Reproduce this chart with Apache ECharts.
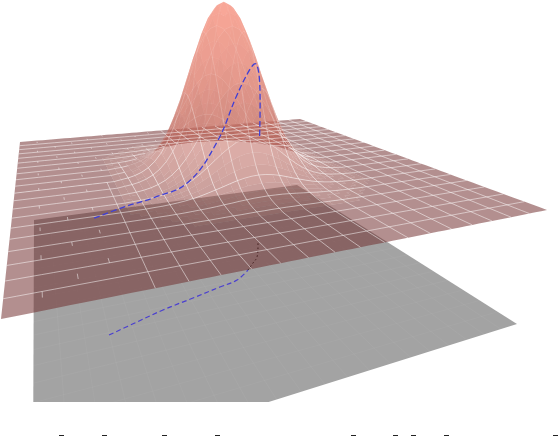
<!DOCTYPE html>
<html><head><meta charset="utf-8">
<style>html,body{margin:0;padding:0;background:#fff}#c{width:558px;height:436px;filter:blur(.35px)}</style>
<script src="https://cdn.jsdelivr.net/npm/echarts@6/dist/echarts.min.js"></script>
</head><body><div id="c"></div>
<script>
// ---- values ----
// surface height (percent of peak) in one quadrant around the peak; rows step along v, columns along u, 1/60 of the plane per step
const peakQuadrant = [
[100,98.1,92.6,84.1,73.5,61.8,50.0,39.0,29.2,21.1,14.6,9.8,6.3,3.9,2.3,1.3,.7],
[98.5,96.6,91.2,82.8,72.4,60.9,49.3,38.4,28.8,20.8,14.4,9.7,6.2,3.8,2.3,1.3,.7],
[94.0,92.2,87.0,79.1,69.1,58.1,47.0,36.7,27.4,19.8,13.7,9.2,5.9,3.7,2.2,1.2,.7],
[87.1,85.4,80.7,73.3,64.0,53.8,43.6,34.0,25.4,18.4,12.7,8.5,5.5,3.4,2.0,1.1,.6],
[78.2,76.7,72.4,65.8,57.5,48.3,39.1,30.5,22.8,16.5,11.4,7.7,4.9,3.0,1.8,1.0,.5],
[68.1,66.8,63.1,57.3,50.1,42.1,34.1,26.6,19.9,14.4,9.9,6.7,4.3,2.7,1.6,.9,.5],
[57.5,56.4,53.2,48.4,42.3,35.5,28.8,22.4,16.8,12.1,8.4,5.6,3.6,2.2,1.3,.7,.4],
[47.0,46.1,43.5,39.5,34.5,29.0,23.5,18.3,13.7,9.9,6.9,4.6,3.0,1.8,1.1,.6,.3],
[37.3,36.6,34.5,31.4,27.4,23.1,18.7,14.5,10.9,7.9,5.4,3.7,2.3,1.5,.9,.5,.3],
[28.8,28.3,26.7,24.2,21.2,17.8,14.4,11.2,8.4,6.1,4.2,2.8,1.8,1.1,.7,.4,.2],
[21.5,21.1,19.9,18.1,15.8,13.3,10.8,8.4,6.3,4.5,3.1,2.1,1.4,.8,.5,.3,.2],
[15.5,15.2,14.4,13.0,11.4,9.6,7.8,6.0,4.5,3.3,2.3,1.5,1.0,.6,.4,.2,.1],
[10.9,10.7,10.1,9.2,8.0,6.7,5.5,4.3,3.2,2.3,1.6,1.1,.7,.4,.3,.1,.1],
[7.4,7.3,6.9,6.2,5.4,4.6,3.7,2.9,2.2,1.6,1.1,.7,.5,.3,.2,.1,.1],
[4.9,4.8,4.5,4.1,3.6,3.0,2.5,1.9,1.4,1.0,.7,.5,.3,.2,.1,.1,0],
[3.1,3.0,2.9,2.6,2.3,1.9,1.6,1.2,.9,.7,.5,.3,.2,.1,.1,0,0],
[1.9,1.9,1.8,1.6,1.4,1.2,1.0,.7,.6,.4,.3,.2,.1,.1,0,0,0],
[1.2,1.2,1.1,1.0,.9,.7,.6,.5,.4,.3,.2,.1,.1,0,0,0,0],
[.7,.7,.6,.6,.5,.4,.4,.3,.2,.1,.1,.1,0,0,0,0,0]
];
// slice curve: plane coordinates and height
const curveU = [.1477,.2124,.2777,.3578,.4362,.4893,.5368,.5653,.5905,.6195,.6336];
const curveV = [.2915,.3159,.3399,.3623,.3853,.4010,.4384,.4690,.4971,.5535,.5840];
const curveZ = [0,1.5,2,6,26,50,63,66,55,37,13];
const floorVisibleCount = 7;          // curve points visible below the plane's front edge
const bottomDashX = [59,102,162,215,351,393,411,444,553]; // clipped caption marks
const floorCorners = [[33,476],[517,324],[297,185],[34,220]]; // front-left, front-right, back-right, back-left

// ---- view ----
const N = 60, STEP = 3;
const cam = {a:861.3,b:48.17,c:1,d:12.04,e:30.1,f:319,g:.5764,h:1.4585,
             vx:241,vy:1373,floor:.17,peak:.2455};
function project(u,v,zPct){
  const t = -cam.peak*zPct/100;
  const w = cam.g*u+cam.h*v+1+t;
  return [(cam.a*u+cam.b*v+cam.c+t*cam.vx)/w,(cam.d*u+cam.e*v+cam.f+t*cam.vy)/w];
}
function projectCurveOnFloor(u,v){
  const l = cam.floor, w = cam.g*u+cam.h*v+1+l;
  return [(cam.a*u+cam.b*v+cam.c+l*cam.vx)/w,(cam.d*u+cam.e*v+cam.f+l*cam.vy)/w];
}
function quadMap(q){
  const [p0,p1,p2,p3]=q;
  const sx=p0[0]-p1[0]+p2[0]-p3[0], sy=p0[1]-p1[1]+p2[1]-p3[1];
  const dx1=p1[0]-p2[0], dx2=p3[0]-p2[0], dy1=p1[1]-p2[1], dy2=p3[1]-p2[1];
  const den=dx1*dy2-dx2*dy1;
  const g=(sx*dy2-dx2*sy)/den, h=(dx1*sy-sx*dy1)/den;
  const a=p1[0]-p0[0]+g*p1[0], b=p3[0]-p0[0]+h*p3[0], d=p1[1]-p0[1]+g*p1[1], e=p3[1]-p0[1]+h*p3[1];
  return (u,v)=>{const w=g*u+h*v+1;return [(a*u+b*v+p0[0])/w,(d*u+e*v+p0[1])/w];};
}
const floorMap = quadMap(floorCorners);
function height(i,j){
  const r = Math.abs(i-N/2), c = Math.abs(j-N/2);
  return (r<peakQuadrant.length && c<peakQuadrant[0].length) ? peakQuadrant[r][c] : 0;
}
const stopLow=[112,44,44], stopHigh=[246,142,122], ALPHA=.53;
function band(z){ return z<.05 ? 0 : 1+Math.round(Math.pow(z/100,.42)*24); }
function bandColor(b){
  const k = b/25;
  const c = stopLow.map((s,n)=>Math.round(s+(stopHigh[n]-s)*k));
  return 'rgba('+c.join(',')+','+ALPHA+')';
}
function brokenPiece(i,j){
  // cross lines flicker in and out on the far left of the plane
  const u=j/N, v=i/N;
  if(u>=.45) return false;
  if(u>=.2 && v<.5) return false;
  if(height(i,j)>.5) return false;
  return (i*2+j)%7>0;
}
function surfaceChildren(api){
  const pts=[];
  for(let i=0;i<=N;i++){pts.push([]);for(let j=0;j<=N;j++){
    pts[i].push(api.coord(project(j/N,i/N,height(i,j))));}}
  const layers=[{},{},{}];
  const fmt=p=>p[0].toFixed(2)+' '+p[1].toFixed(2);
  for(let i=0;i<N;i++)for(let j=0;j<N;j++){
    const q=[pts[i][j],pts[i][j+1],pts[i+1][j+1],pts[i+1][j]];
    let s=0;for(let k=0;k<4;k++){const a=q[k],b=q[(k+1)%4];s+=a[0]*b[1]-b[0]*a[1];}
    const zm=(height(i,j)+height(i,j+1)+height(i+1,j+1)+height(i+1,j))/4;
    const b=band(zm);
    const layer = s>0 ? 1 : (i>=N/2 ? 0 : 2);
    (layers[layer][b]=layers[layer][b]||[]).push('M'+fmt(q[0])+'L'+fmt(q[1])+'L'+fmt(q[2])+'L'+fmt(q[3])+'Z');
  }
  const ch=[];
  layers.forEach(l=>Object.keys(l).map(Number).sort((a,b)=>a-b).forEach(b=>{
    ch.push({type:'path',shape:{pathData:l[b].join('')},style:{fill:bandColor(b),stroke:null}});
  }));
  const alphas=[.5,.42,.3,.2,.13,.07];
  const seg={};
  const add=(z,p,q,rear,alongU)=>{
    let lv=Math.min(5,Math.floor(z/(alongU?9:14)));
    if(rear && z>1.5) lv=5;
    (seg[lv]=seg[lv]||[]).push('M'+fmt(p)+'L'+fmt(q));
  };
  for(let i=STEP;i<N;i+=STEP)for(let j=0;j<N;j++){
    add((height(i,j)+height(i,j+1))/2,pts[i][j],pts[i][j+1],i>N/2,true);
  }
  for(let j=STEP;j<N;j+=STEP)for(let i=0;i<N;i++){
    if(brokenPiece(i,j)) continue;
    add((height(i,j)+height(i+1,j))/2,pts[i][j],pts[i+1][j],i>=N/2,false);
  }
  Object.keys(seg).forEach(k=>{
    ch.push({type:'path',shape:{pathData:seg[k].join('')},
      style:{fill:null,stroke:'rgba(255,255,255,'+alphas[k]+')',lineWidth:1}});
  });
  return ch;
}
function floorChildren(api){
  const c=floorCorners.map(p=>api.coord(p));
  const ch=[{type:'polygon',shape:{points:c},style:{fill:'#a3a3a3'}}];
  let d='';
  for(let k=STEP;k<N;k+=STEP){
    const a=api.coord(floorMap(k/N,0)),b=api.coord(floorMap(k/N,1));
    const e=api.coord(floorMap(0,k/N)),f=api.coord(floorMap(1,k/N));
    d+='M'+a.join(' ')+'L'+b.join(' ')+'M'+e.join(' ')+'L'+f.join(' ');
  }
  ch.push({type:'path',shape:{pathData:d},style:{fill:null,stroke:'rgba(255,255,255,.04)',lineWidth:1}});
  return ch;
}
const floorCurve = curveU.map((u,k)=>projectCurveOnFloor(u,curveV[k]));
const surfCurve  = curveU.map((u,k)=>project(u,curveV[k],curveZ[k]));

const chart = echarts.init(document.getElementById('c'),null,{renderer:'canvas'});
chart.setOption({
  animation:false, backgroundColor:'#fff',
  grid:{left:0,top:0,width:558,height:402},
  xAxis:{type:'value',min:0,max:558,show:false},
  yAxis:{type:'value',min:0,max:402,inverse:true,show:false},
  series:[
    {type:'custom',z:1,clip:true,silent:true,data:[[0,0]],
     renderItem:(p,api)=>({type:'group',children:floorChildren(api)})},
    {type:'line',z:2,silent:true,symbol:'none',smooth:.4,
     data:floorCurve.slice(0,floorVisibleCount),
     lineStyle:{color:'#4a3fd0',width:1.2,type:[5,3]}},
    {type:'line',z:2,silent:true,symbol:'none',smooth:.4,
     data:floorCurve.slice(floorVisibleCount-1),
     lineStyle:{color:'#111',width:1,type:[1.5,2.5]}},
    {type:'custom',z:3,clip:false,silent:true,data:[[0,0]],
     renderItem:(p,api)=>({type:'group',children:surfaceChildren(api)})},
    {type:'line',z:4,silent:true,symbol:'none',smooth:.4,
     data:surfCurve,lineStyle:{color:'#3f3fd6',width:1.3,type:[6,3]}}
  ],
  graphic:bottomDashX.map(x=>({type:'rect',shape:{x:x,y:435,width:5,height:1},style:{fill:'#222'},silent:true}))
});
</script></body></html>
